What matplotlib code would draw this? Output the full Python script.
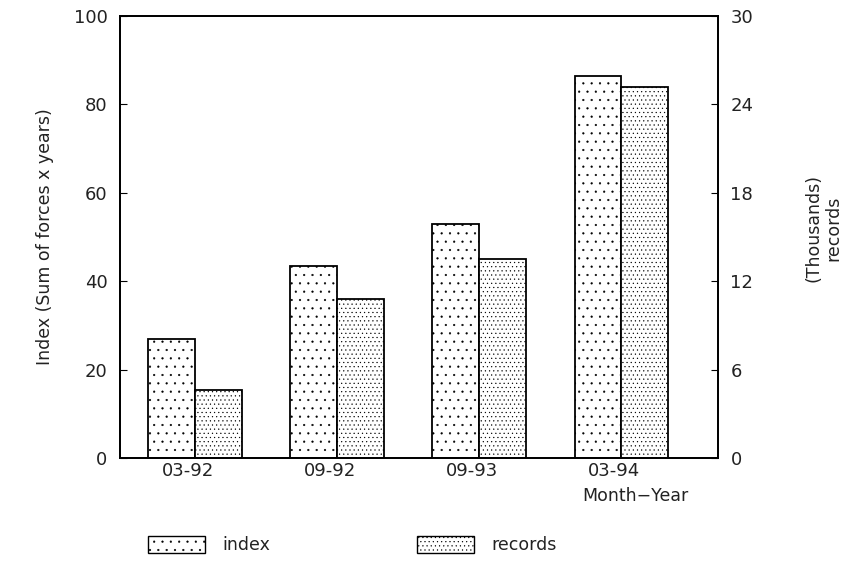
import matplotlib
matplotlib.use("Agg")
import matplotlib.pyplot as plt
import numpy as np
from matplotlib.patches import Patch

categories = ["03-92", "09-92", "09-93", "03-94"]
index_values = [27, 43.5, 53, 86.5]
records_thousands = [4.6, 10.8, 13.5, 25.2]
left_ticks = [0, 20, 40, 60, 80, 100]
right_ticks = [0, 6, 12, 18, 24, 30]

plt.rcParams['font.family'] = ['DejaVu Sans']
plt.rcParams['hatch.linewidth'] = 0.35
plt.rcParams['hatch.color'] = '#555555'
TXT = '#222222'

fig = plt.figure(figsize=(8.52, 5.82), dpi=100)
ax = fig.add_axes([120/852, 1-458/582, (718-120)/852, (458-16)/582])
ax2 = ax.twinx()

x = np.arange(len(categories))
w = 0.33
ax.bar(x - w/2, index_values, width=w, facecolor='white', edgecolor='black',
       linewidth=1.3, hatch='..')
ax2.bar(x + w/2, records_thousands, width=w, facecolor='white', edgecolor='black',
        linewidth=1.3, hatch='....')

ax.set_xlim(-0.53, 3.68)
ax.set_ylim(0, 100)
ax2.set_ylim(0, 30)
ax.set_yticks(left_ticks)
ax2.set_yticks(right_ticks)
ax.set_xticks(x - 0.05)
ax.set_xticklabels(categories, fontsize=13, color=TXT)
ax.tick_params(axis='x', length=0, pad=3)
ax.tick_params(axis='y', direction='in', length=5, labelsize=13, pad=9, labelcolor=TXT)
ax2.tick_params(axis='y', direction='in', length=5, labelsize=13, pad=9, labelcolor=TXT)

for a in (ax, ax2):
    for s in a.spines.values():
        s.set_linewidth(1.3)

ax.set_ylabel("Index (Sum of forces x years)", fontsize=12.5, labelpad=14, color=TXT)
ax2.set_ylabel("(Thousands)\nrecords", fontsize=12.5, rotation=90,
               linespacing=1.1, color=TXT)
ax2.yaxis.set_label_coords(1.145, 0.52)

fig.text(635/852, 1-496/582, "Month\u2212Year", fontsize=12.5, ha='center', va='center', color=TXT)

handles = [Patch(facecolor='white', edgecolor='black', hatch='..', label='index'),
           Patch(facecolor='white', edgecolor='black', hatch='....', label='records')]
fig.legend(handles=[handles[0]], loc='center left', bbox_to_anchor=(132/852, 1-545/582),
           frameon=False, fontsize=12.5, handlelength=3.3, handleheight=1.1,
           labelcolor=TXT, handletextpad=1.0)
fig.legend(handles=[handles[1]], loc='center left', bbox_to_anchor=(401/852, 1-545/582),
           frameon=False, fontsize=12.5, handlelength=3.3, handleheight=1.1,
           labelcolor=TXT, handletextpad=1.0)

fig.savefig("out.png", dpi=100)
